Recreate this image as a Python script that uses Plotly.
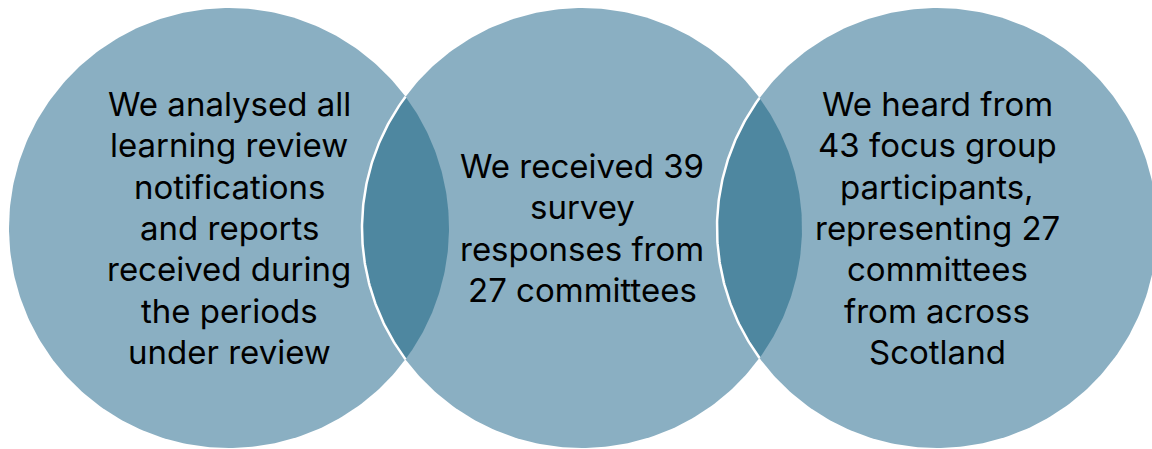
import numpy as np
import plotly.graph_objects as go

# ---- data ----
labels = [
    ["We analysed all", "learning review", "notifications", "and reports",
     "received during", "the periods", "under review"],
    ["We received 39", "survey", "responses from", "27 committees"],
    ["We heard from", "43 focus group", "participants,", "representing 27",
     "committees", "from across", "Scotland"],
]
centers_x = [229, 582, 937]
center_y = 228
radius = 220
line_gap = 41.3

LIGHT = "#8aafc2"
DARK = "#4e87a0"

W, H = 1152, 449
fig = go.Figure()

t = np.linspace(0, 2 * np.pi, 361)
for cx in centers_x:
    fig.add_trace(go.Scatter(
        x=cx + radius * np.cos(t), y=center_y + radius * np.sin(t),
        mode="lines", fill="toself", fillcolor=LIGHT,
        line=dict(width=0, color=LIGHT), hoverinfo="skip", showlegend=False))

# overlap lenses
for a, b in zip(centers_x[:-1], centers_x[1:]):
    d = b - a
    half = np.arccos((d / 2) / radius)
    ta = np.linspace(-half, half, 120)
    xa = a + radius * np.cos(ta)
    ya = center_y + radius * np.sin(ta)
    tb = np.linspace(np.pi - half, np.pi + half, 120)
    xb = b + radius * np.cos(tb)
    yb = center_y + radius * np.sin(tb)
    fig.add_trace(go.Scatter(
        x=np.concatenate([xa, xb, xa[:1]]),
        y=np.concatenate([ya, yb, ya[:1]]),
        mode="lines", fill="toself", fillcolor=DARK,
        line=dict(width=0, color=DARK), hoverinfo="skip", showlegend=False))
    fig.add_trace(go.Scatter(
        x=xb, y=yb, mode="lines",
        line=dict(width=2.5, color="white"), hoverinfo="skip", showlegend=False))

for cx, lines in zip(centers_x, labels):
    n = len(lines)
    for i, txt in enumerate(lines):
        fig.add_annotation(
            x=cx, y=center_y + (i - (n - 1) / 2) * line_gap, text=txt,
            showarrow=False, xanchor="center", yanchor="middle", align="center",
            font=dict(family="Inter, Noto Sans, sans-serif", size=33, color="#000000"))

fig.update_layout(
    width=W, height=H, margin=dict(l=0, r=0, t=0, b=0),
    paper_bgcolor="white", plot_bgcolor="white",
    xaxis=dict(range=[0, W], visible=False, fixedrange=True),
    yaxis=dict(range=[H, 0], visible=False, fixedrange=True),
)
fig.write_html("out.html", post_script="document.body.style.margin='0';",
               config={"displayModeBar": False})
